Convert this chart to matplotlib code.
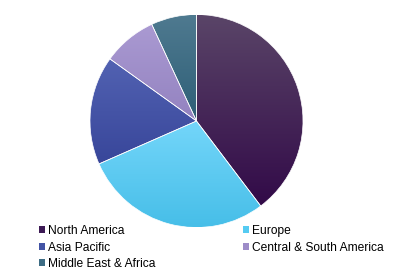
import matplotlib
matplotlib.use("Agg")
import matplotlib.pyplot as plt
import numpy as np
from matplotlib.patches import Patch
from matplotlib.colors import to_rgb

regions = ["North America", "Europe", "Asia Pacific", "Central & South America", "Middle East & Africa"]
shares = [39.7, 28.7, 16.5, 8.2, 6.9]
top_colors = ["#5a4568", "#74d6fa", "#5262b2", "#aa9ad2", "#4f7a90"]
bottom_colors = ["#320a48", "#46bee8", "#38469a", "#9382c0", "#2e5f77"]
mid_colors = ["#3d1a55", "#55cbf2", "#4253a5", "#9d8cc8", "#3d6c84"]

plt.rcParams['font.family'] = ['Liberation Sans', 'DejaVu Sans']

fig = plt.figure(figsize=(4.0, 2.74), dpi=100)
cx, cy, r = 196.5, 121.0, 106.5
ax = fig.add_axes([(cx - r) / 400, (274 - cy - r) / 274, 2 * r / 400, 2 * r / 274])
ax.set_xlim(-1, 1)
ax.set_ylim(-1, 1)
ax.set_aspect('equal')
ax.axis('off')

wedges, _ = ax.pie(shares, startangle=90, counterclock=False, radius=1.0,
                   colors=mid_colors, wedgeprops=dict(linewidth=0.5, edgecolor='white'))

# vertical gradient fill within each wedge
for w, tc, bc in zip(wedges, top_colors, bottom_colors):
    path = w.get_path()
    verts = path.vertices
    ymin, ymax = verts[:, 1].min(), verts[:, 1].max()
    xmin, xmax = verts[:, 0].min(), verts[:, 0].max()
    t = np.linspace(0, 1, 256)[:, None]
    c1 = np.array(to_rgb(tc)); c2 = np.array(to_rgb(bc))
    img = (c1[None, None, :] * (1 - t[:, :, None]) + c2[None, None, :] * t[:, :, None])
    img = np.repeat(img, 2, axis=1)
    im = ax.imshow(img, extent=[xmin, xmax, ymin, ymax], origin='upper',
                   aspect='auto', zorder=w.get_zorder() + 0.1, interpolation='bilinear')
    im.set_clip_path(w)
    w.set_facecolor('none')
    w.set_zorder(w.get_zorder() + 0.2)
ax.set_xlim(-1, 1)
ax.set_ylim(-1, 1)

order = [0, 2, 4, 1, 3]
handles = [Patch(facecolor=mid_colors[i], edgecolor='none') for i in order]
labels = [regions[i] for i in order]
fig.legend(handles, labels, ncol=2, loc='upper left',
           bbox_to_anchor=(39.0 / 400, (274 - 225.0) / 274),
           frameon=False, fontsize=8.65, handlelength=0.5, handleheight=0.5,
           handletextpad=0.25, columnspacing=7.3, labelspacing=0.38,
           borderpad=0, borderaxespad=0)

fig.savefig("out.png", dpi=100, facecolor='white')
